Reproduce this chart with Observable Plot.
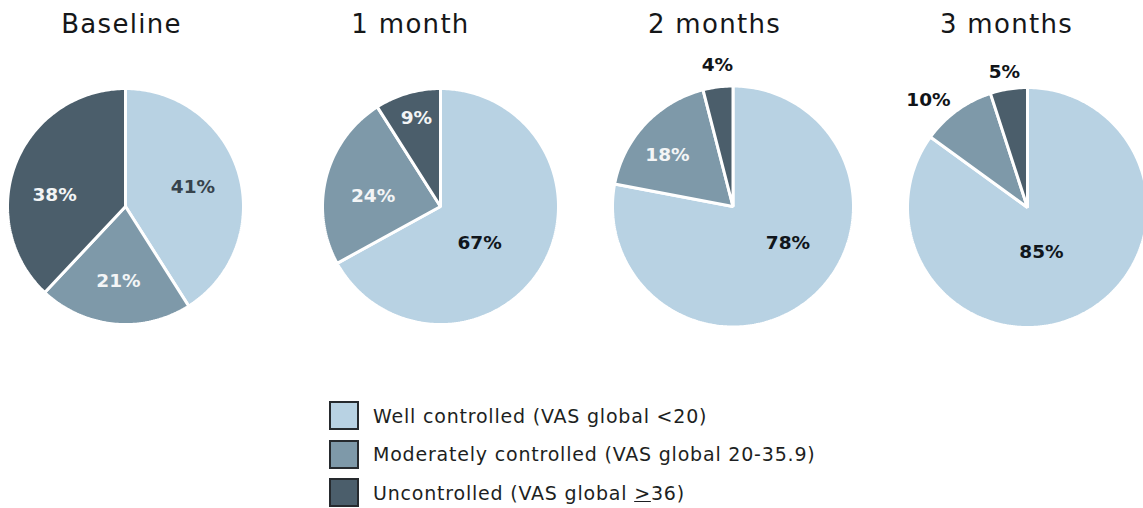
<!DOCTYPE html>
<html>
<head>
<meta charset="utf-8">
<script src="https://cdn.jsdelivr.net/npm/d3@7"></script>
<script src="https://cdn.jsdelivr.net/npm/@observablehq/plot@0.6"></script>
<style>
  html, body { margin: 0; padding: 0; background: #fff; }
  #wrap { position: relative; width: 1143px; height: 508px; overflow: hidden; font-family: "DejaVu Sans", sans-serif; }
  #chart { position: absolute; left: 0; top: 0; }
  #legend { position: absolute; left: 329px; top: 401px; }
  .row { display: flex; align-items: center; height: 29px; margin-bottom: 9.5px; }
  .sw { width: 26px; height: 25px; border: 2px solid #262a2e; box-sizing: content-box; }
  .lab { margin-left: 14px; font-size: 19px; color: #1d1f22; letter-spacing: 0.8px; }
</style>
</head>
<body>
<div id="wrap">
  <div id="chart"></div>
  <div id="legend"></div>
</div>
<script>
// Asthma control by VAS global score, share of patients (%)
const periods = ["Baseline", "1 month", "2 months", "3 months"];
const categories = [
  "Well controlled (VAS global <20)",
  "Moderately controlled (VAS global 20-35.9)",
  "Uncontrolled (VAS global ≥36)"
];
const wellControlled = [41, 67, 78, 85];
const moderatelyControlled = [21, 24, 18, 10];
const uncontrolled = [38, 9, 4, 5];

const colors = ["#b8d2e3", "#7e99a9", "#4b5e6b"];

// Layout of the four pies (SVG units = pixels)
const W = 1143, H = 340;
const pieCx = [125, 440, 732.5, 1027];
const pieCy = [206, 206, 206, 207];
const pieR = [118, 118, 120.5, 120];
const titleX = [121, 410, 714, 1006];
// Label placement per pie and slice: [radius fraction, angle nudge in degrees]
const labelPlace = [
  [[0.594, 0.5], [0.638, 0], [0.608, -12.8]],
  [[0.456, 12.9], [0.578, -6], [0.773, 0.9]],
  [[0.55, -16.5], [0.689, -5.3], [1.177, 0.9]],
  [[0.392, 9.7], [1.215, -6.8], [1.142, -0.7]]
];
const inkOnLight = ["#37434c", "#10161c", "#10161c", "#10161c"];

const series = [wellControlled, moderatelyControlled, uncontrolled];

// Build slice outlines and label anchors from the percentages
const slices = [];
const labels = [];
periods.forEach((period, p) => {
  let cum = 0;
  const total = d3.sum(series, s => s[p]);
  categories.forEach((cat, k) => {
    const v = series[k][p];
    const a0 = (cum / total) * 2 * Math.PI;
    const a1 = ((cum + v) / total) * 2 * Math.PI;
    cum += v;
    const id = `${p}-${k}`;
    const cx = pieCx[p], cy = pieCy[p], r = pieR[p];
    slices.push({slice: id, category: cat, x: cx, y: cy});
    const n = Math.max(2, Math.ceil((a1 - a0) / (Math.PI / 180)));
    for (let i = 0; i <= n; ++i) {
      const a = a0 + (a1 - a0) * i / n;
      slices.push({slice: id, category: cat, x: cx + r * Math.sin(a), y: cy - r * Math.cos(a)});
    }
    const [rf, nudge] = labelPlace[p][k];
    const am = (a0 + a1) / 2 + nudge * Math.PI / 180;
    const outside = rf > 1;
    labels.push({
      text: `${v}%`,
      x: cx + rf * r * Math.sin(am),
      y: cy - rf * r * Math.cos(am),
      ink: outside ? "#111418" : (k === 0 ? inkOnLight[p] : "#f3f5f6")
    });
  });
});

const chart = Plot.plot({
  width: W,
  height: H,
  margin: 0,
  x: {domain: [0, W], range: [0, W], axis: null},
  y: {domain: [0, H], range: [0, H], axis: null},
  color: {domain: categories, range: colors},
  style: {background: "white", fontFamily: "'DejaVu Sans', sans-serif"},
  marks: [
    Plot.line(slices, {
      x: "x", y: "y", z: "slice", fill: "category",
      stroke: "white", strokeWidth: 3, curve: "linear-closed", strokeLinejoin: "miter"
    }),
    Plot.text(labels, {
      x: "x", y: "y", text: "text", fill: d => d.ink,
      fontSize: 18.5, fontWeight: 700
    }),
    Plot.text(periods, {
      x: (d, i) => titleX[i], y: 24, text: d => d,
      fontSize: 26, fill: "#151719"
    })
  ]
});
// Slightly open tracking on the period titles
chart.querySelectorAll("text").forEach(t => {
  if (periods.includes(t.textContent)) t.style.letterSpacing = "1.3px";
});
document.getElementById("chart").append(chart);

// Legend
const legend = document.getElementById("legend");
categories.forEach((cat, k) => {
  const row = document.createElement("div");
  row.className = "row";
  const sw = document.createElement("div");
  sw.className = "sw";
  sw.style.background = colors[k];
  const lab = document.createElement("div");
  lab.className = "lab";
  const parts = cat.split("≥");
  lab.append(parts[0]);
  if (parts.length > 1) {
    const u = document.createElement("u");
    u.textContent = ">";
    lab.append(u, parts[1]);
  }
  row.append(sw, lab);
  legend.append(row);
});
</script>
</body>
</html>
